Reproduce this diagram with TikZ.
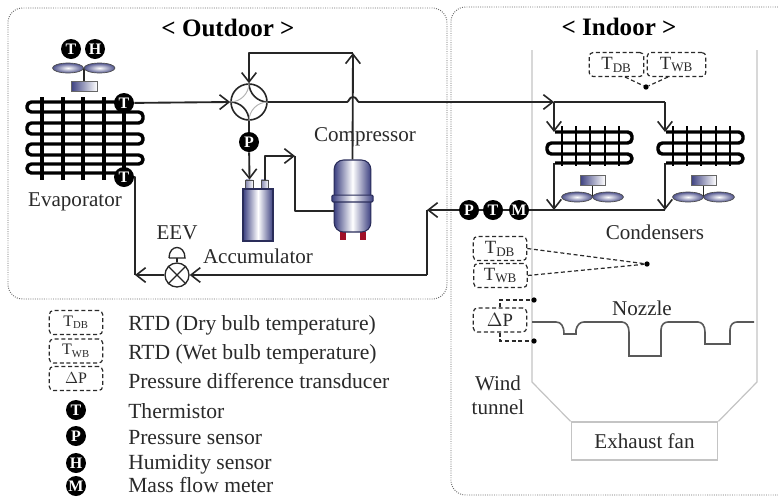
\documentclass[tikz,border=0pt]{standalone}
\usepackage{fontspec}
\setmainfont{Liberation Serif}
\usetikzlibrary{positioning, calc, arrows.meta}

\definecolor{inkgray}{HTML}{2A2A2A}
\definecolor{steel}{HTML}{3C4080}
\definecolor{wallgray}{HTML}{C4C4C4}
\definecolor{footred}{HTML}{A01028}

\tikzset{
  zone/.style={draw=gray!85!black, line width=0.7pt, densely dotted, rounded corners=11pt},
  label/.style={text=inkgray, font=\fontsize{15.8}{17}\selectfont, inner sep=0pt, align=center},
  heading/.style={text=black, font=\fontsize{18.8}{20}\selectfont\bfseries, inner sep=0pt},
  legendtext/.style={label, anchor=west, font=\fontsize{16.2}{17}\selectfont},
  sensor/.style={circle, fill=black, text=white, font=\fontsize{12}{13}\selectfont\bfseries, inner sep=0pt, minimum size=15pt},
  probe/.style={draw=inkgray, line width=0.9pt, densely dashed, rounded corners=3pt, text=inkgray, inner sep=0pt,
    font=\fontsize{14}{15}\selectfont, minimum width=40pt, minimum height=18pt},
  legendprobe/.style={probe, font=\fontsize{12}{13}\selectfont},
  lead/.style={draw=inkgray, line width=0.9pt, densely dashed},
  dot/.style={circle, fill=black, inner sep=0pt, minimum size=4pt},
  pipe/.style={draw=black!85, line width=1.4pt, line join=round},
  flow/.style={pipe, -{Straight Barb[length=7pt, width=11pt, line width=1.2pt]}},
  coil/.style={draw=black, line width=2.6pt, rounded corners=3.3pt},
  blade/.style={draw=black!70, line width=0.5pt, inner color=white, outer color=steel!90},
  motor/.style={draw=black!60, line width=0.4pt, left color=steel, right color=white},
  vessel/.style={draw=steel!70!black, line width=0.8pt, left color=steel, right color=steel, middle color=white, inner sep=0pt},
  wall/.style={draw=wallgray, line width=0.9pt},
}

\begin{document}
\begin{tikzpicture}[x=0.75pt, y=-0.75pt]
  \clip (0,0) rectangle (778,497);
  \fill[white] (0,0) rectangle (778,497);

  % zones
  \draw[zone] (8,8) rectangle (447,299);
  \draw[zone] (451,7) rectangle (795,495);
  \node[heading] (outdoor) at (228,28) {< Outdoor >};
  \node[heading] (indoor) at (619,27) {< Indoor >};

  % wind tunnel
  \node[wall, label, minimum width=110pt, minimum height=28.5pt] (fan) at (644.5,441) {Exhaust fan};
  \draw[wall] (532,50) -- (532,382) -- (fan.north west);
  \draw[wall] (757,50) -- (757,382) -- (fan.north east);
  \draw[draw=black!65, line width=1.2pt]
    (532,322) -- (556,322) .. controls (561,322) and (564,326) .. (564,334) -- (576,334)
    -- (576,330) .. controls (577,325) and (580,322) .. (584,322) -- (622,322)
    .. controls (626,322) and (629,326) .. (629,332) -- (629,356) -- (661,356) -- (661,330)
    .. controls (661,325) and (664,322) .. (668,322) -- (698,322)
    .. controls (702,322) and (705,326) .. (705,332) -- (705,344) -- (730,344) -- (730,330)
    .. controls (730,325) and (733,322) .. (737,322) -- (754,322);

  % evaporator
  \draw[coil] (124,102) -- (27,102) -- (27,112) -- (143,112) -- (143,123) -- (27,123) -- (27,134)
    -- (143,134) -- (143,144) -- (27,144) -- (27,155) -- (143,155) -- (143,164) -- (27,164)
    -- (27,173) -- (124,173);
  \foreach \x in {42,63,83,104,124} {
    \draw[draw=black, line width=2.4pt] (\x,97) -- (\x,180);
  }

  % condensers
  \foreach \dx in {0,111} {
    \begin{scope}[xshift=\dx*0.75pt]
      \draw[coil] (555,132) -- (632,132) -- (632,143) -- (547,143) -- (547,154) -- (632,154)
        -- (632,163) -- (555,163);
      \foreach \x in {562,576,590,605,619} {
        \draw[draw=black, line width=2.2pt] (\x,126) -- (\x,166);
      }
      \draw[pipe] (592.5,180) -- (592.5,197);
      \draw[motor] (580,175) rectangle (605,185);
      \draw[blade] (577,197) ellipse (15.5 and 5);
      \draw[blade] (608,197) ellipse (15.5 and 5);
    \end{scope}
  }

  % evaporator fan
  \draw[pipe] (84,68) -- (84,81);
  \draw[motor] (71,81) rectangle (97,91);
  \draw[blade] (68,68) ellipse (15.5 and 5);
  \draw[blade] (99.5,68) ellipse (15.5 and 5);

  % sensors
  \node[sensor] (tfan) at (71,49) {T};
  \node[sensor] (hfan) at (95,49) {H};
  \node[sensor] (tout) at (124,103) {T};
  \node[sensor] (tin) at (124,177) {T};
  \node[sensor] (pval) at (249,142) {P};
  \node[sensor] (pret) at (469,210) {P};
  \node[sensor] (tret) at (493,210) {T};
  \node[sensor] (mret) at (519,210) {M};

  % four way valve
  \node[circle, draw=black!85, line width=1.2pt, minimum size=27pt, inner sep=0pt] (valve) at (249,102) {};
  \draw[draw=black!85, line width=1.2pt] (valve.north) .. controls ($(valve.north)!0.55!(valve.center)$) and ($(valve.east)!0.55!(valve.center)$) .. (valve.east);
  \draw[draw=black!85, line width=1.2pt] (valve.west) .. controls ($(valve.west)!0.55!(valve.center)$) and ($(valve.south)!0.55!(valve.center)$) .. (valve.south);
  \draw[draw=gray!60, line width=0.7pt] (valve.north) .. controls ($(valve.north)!0.55!(valve.center)$) and ($(valve.west)!0.55!(valve.center)$) .. (valve.west);
  \draw[draw=gray!60, line width=0.7pt] (valve.south) .. controls ($(valve.south)!0.55!(valve.center)$) and ($(valve.east)!0.55!(valve.center)$) .. (valve.east);

  % expansion valve
  \node[circle, draw=black!85, line width=1pt, minimum size=18pt, inner sep=0pt] (eev) at (177,275) {};
  \draw[draw=black!85, line width=1pt] (eev.45) -- (eev.225);
  \draw[draw=black!85, line width=1pt] (eev.135) -- (eev.315);
  \coordinate (act) at (177,258);
  \draw[draw=black!85, line width=1pt] (eev.north) -- (act);
  \draw[draw=black!85, line width=1pt] (169,258) -- (185,258) .. controls (185,244) and (169,244) .. (169,258);

  % accumulator
  \node[draw=black!70, line width=0.6pt, minimum width=5.5pt, minimum height=6.8pt, inner sep=0pt, left color=steel!60, right color=white] (tube1) at (249.5,184.5) {};
  \node[draw=black!70, line width=0.6pt, minimum width=5.5pt, minimum height=6.8pt, inner sep=0pt, left color=steel!60, right color=white] (tube2) at (265,184.5) {};
  \node[vessel, minimum width=22.5pt, minimum height=39pt] (accu) at (258,215) {};

  % compressor
  \node[fill=footred, minimum width=4.5pt, minimum height=6pt, inner sep=0pt] (foot1) at (343,236) {};
  \node[fill=footred, minimum width=4.5pt, minimum height=6pt, inner sep=0pt] (foot2) at (363,236) {};
  \node[vessel, rounded corners=7pt, minimum width=27.5pt, minimum height=54pt] (comp) at (352.5,196) {};
  \node[vessel, rounded corners=1pt, minimum width=31pt, minimum height=5.2pt] (band) at (352.5,198.5) {};

  % refrigerant lines
  \coordinate (top) at (353,53);
  \coordinate (topleft) at (249,53);
  \coordinate (split) at (554,102);
  \coordinate (splitr) at (665,102);
  \coordinate (drop1) at (554,132);
  \coordinate (drop2) at (665,132);
  \coordinate (out1) at (554,163);
  \coordinate (out2) at (665,163);
  \coordinate (join1) at (554,210);
  \coordinate (join2) at (665,210);
  \coordinate (ret) at (427,210);
  \coordinate (low) at (427,275);
  \coordinate (evapin) at (135,275);
  \coordinate (accout) at (265,156);
  \coordinate (suct) at (295,156);
  \coordinate (suctlow) at (295,211);

  \path[flow] (tout) -- (valve.west);
  \path[flow] (comp.north) -- (top);
  \path[flow] (top) -- (topleft) -- (valve.north);
  \path[flow] (valve.east) -- (347,102) .. controls (349,102) and (349,97) .. (353,97)
    .. controls (357,97) and (357,102) .. (359,102) -- (split);
  \path[pipe] (split) -- (splitr);
  \path[flow] (split) -- (drop1);
  \path[flow] (splitr) -- (drop2);
  \path[flow] (out1) -- (join1);
  \path[flow] (out2) -- (join2);
  \path[pipe] (join2) -- (mret);
  \path[pipe] (mret) -- (tret);
  \path[pipe] (tret) -- (pret);
  \path[flow] (pret) -- (ret);
  \path[pipe] (ret) -- (low);
  \path[flow] (low) -- (eev.east);
  \path[flow] (eev.west) -- (evapin);
  \path[pipe] (evapin) |- (tin.east);
  \path[pipe] (valve.south) -- (pval);
  \path[flow] (pval) -- (tube1.north);
  \path[flow] (tube2.north) -- (accout) -- (suct);
  \path[pipe] (suct) -- (suctlow) -- (suctlow -| comp.west);

  % probes
  \node[probe, minimum width=41pt] (tdbtop) at (616.5,64.5) {T\textsubscript{DB}};
  \node[probe, minimum width=44pt] (twbtop) at (676.5,64.5) {T\textsubscript{WB}};
  \node[dot] (dottop) at (646,87) {};
  \draw[lead] (625,77) -- (dottop);
  \draw[lead] (668,77) -- (dottop);

  \node[probe] (tdbside) at (500,248.5) {T\textsubscript{DB}};
  \node[probe] (twbside) at (500.5,275.5) {T\textsubscript{WB}};
  \node[dot] (dotside) at (647,264) {};
  \draw[lead] (tdbside.east) -- (dotside);
  \draw[lead] (twbside.east) -- (dotside);

  \node[probe] (dpside) at (500,320) {$\Delta$P};
  \node[dot] (dotup) at (534,300) {};
  \node[dot] (dotdown) at (534,341) {};
  \draw[lead] (dpside.north) |- (dotup);
  \draw[lead] (dpside.south) |- (dotdown);

  % labels
  \node[label] (evaplabel) at (75,202) {Evaporator};
  \node[label] (eevlabel) at (177,233) {EEV};
  \node[label] (acculabel) at (258,256) {Accumulator};
  \node[label] (complabel) at (365,137) {Compressor};
  \node[label] (condlabel) at (655,232) {Condensers};
  \node[label] (nozzlabel) at (642,308) {Nozzle};
  \node[label, font=\fontsize{15.8}{18}\selectfont] (windlabel) at (498,395) {Wind\\tunnel};

  % legend
  \node[legendprobe] (legdb) at (76,322.5) {T\textsubscript{DB}};
  \node[legendprobe] (legwb) at (76,351) {T\textsubscript{WB}};
  \node[legendprobe] (legdp) at (76,378.5) {$\Delta$P};
  \node[sensor] (legt) at (76,410) {T};
  \node[sensor] (legp) at (76,436) {P};
  \node[sensor] (legh) at (76,463) {H};
  \node[sensor] (legm) at (76,486) {M};
  \node[legendtext] (txtdb) at (128,325) {RTD (Dry bulb temperature)};
  \node[legendtext] (txtwb) at (128,354) {RTD (Wet bulb temperature)};
  \node[legendtext] (txtdp) at (128,381) {Pressure difference transducer};
  \node[legendtext] (txtt) at (128,411) {Thermistor};
  \node[legendtext] (txtp) at (128,438) {Pressure sensor};
  \node[legendtext] (txth) at (128,464) {Humidity sensor};
  \node[legendtext] (txtm) at (128,485) {Mass flow meter};
\end{tikzpicture}
\end{document}
